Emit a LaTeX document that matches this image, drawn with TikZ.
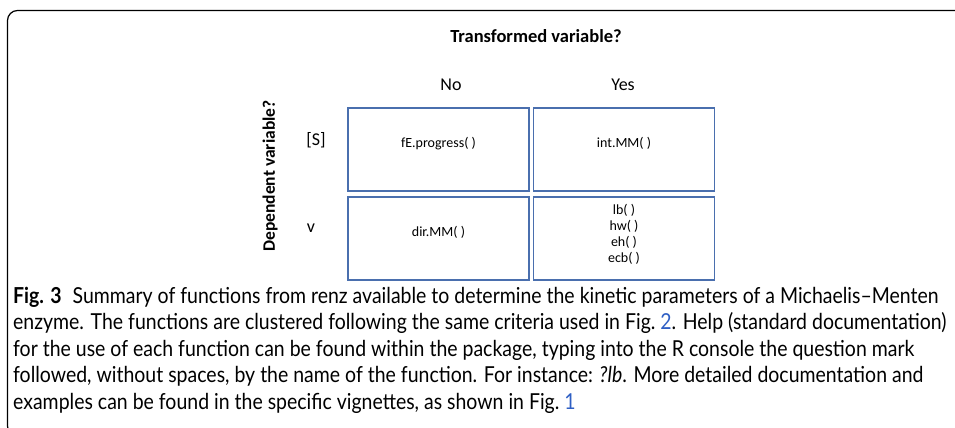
\documentclass[tikz,border=0pt]{standalone}
\usepackage{fontspec}
\usepackage{xcolor}
\newfontfamily\calibri{Carlito}
\newfontfamily\capfont[FakeStretch=0.885]{Lato}
\definecolor{cellblue}{HTML}{4A6FAE}
\definecolor{linkblue}{HTML}{2F5FC4}

\begin{document}
\begin{tikzpicture}[x=1pt,y=-1pt]
	\tikzstyle{cell} = [rectangle,draw=cellblue,line width=1.2pt,minimum width=181pt,minimum height=83pt,inner sep=0pt]
	\tikzstyle{fn}   = [font=\calibri\fontsize{14}{16}\selectfont,align=center,inner sep=0pt]
	\tikzstyle{head} = [font=\calibri\fontsize{18}{20}\selectfont,inner sep=0pt]

	\useasboundingbox (0,0) rectangle (955,428);
	\clip (0,0) rectangle (955,428);
	\draw[line width=1.2pt,rounded corners=10pt] (7.5,10.5) rectangle (975,436);

	\node[head,font=\calibri\bfseries\fontsize{18.5}{20}\selectfont] (title) at (536,36) {Transformed variable?};
	\node[head] (no)  at (451,85) {No};
	\node[head] (yes) at (623,85) {Yes};
	\node[head,rotate=90,font=\calibri\bfseries\fontsize{17.5}{20}\selectfont] (dep) at (270,176) {Dependent variable?};
	\node[head] (s) at (316,140) {[S]};
	\node[head] (v) at (311,228) {v};

	\node[cell] (c11) at (438.5,149.5) {};
	\node[cell] (c12) at (624,149.5) {};
	\node[cell] (c21) at (438.5,238.5) {};
	\node[cell] (c22) at (624,238.5) {};

	\node[fn] (f11) at ([yshift=6pt]c11.center) {fE.progress( )};
	\node[fn] (f12) at ([yshift=6pt]c12.center) {int.MM( )};
	\node[fn] (f21) at ([yshift=6pt]c21.center) {dir.MM( )};
	\node[fn] (f22) at ([yshift=4pt]c22.center) {lb( )\\hw( )\\eh( )\\ecb( )};

	\node[anchor=north west,inner sep=0pt,align=left,font=\capfont\fontsize{22}{26.6}\selectfont] (cap) at (13,286.5)
		{\textbf{Fig. 3}\enspace Summary of functions from renz available to determine the kinetic parameters of a Michaelis–Menten\\
		enzyme. The functions are clustered following the same criteria used in Fig.~\textcolor{linkblue}{2}. Help (standard documentation)\\
		for the use of each function can be found within the package, typing into the R console the question mark\\
		followed, without spaces, by the name of the function. For instance: \textit{?lb}. More detailed documentation and\\
		examples can be found in the specific vignettes, as shown in Fig.~\textcolor{linkblue}{1}};
\end{tikzpicture}
\end{document}
